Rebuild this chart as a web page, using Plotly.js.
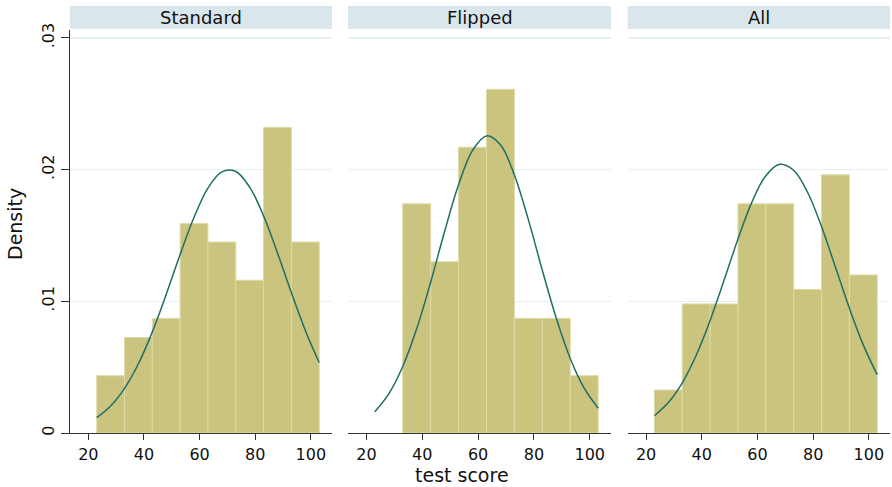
<!DOCTYPE html>
<html>
<head>
<meta charset="utf-8">
<script src="https://cdn.plot.ly/plotly-3.0.1.min.js"></script>
<style>html,body{margin:0;padding:0;background:#fff;}#chart{width:892px;height:487px;}</style>
</head>
<body>
<div id="chart"></div>
<script>
// ---- data ----
const panels = ["Standard", "Flipped", "All"];
const binCenters = [28, 38, 48, 58, 68, 78, 88, 98];
const standardDensity = [0.00435, 0.00725, 0.0087, 0.0159, 0.0145, 0.0116, 0.0232, 0.0145];
const flippedBinCenters = [38, 48, 58, 68, 78, 88, 98];
const flippedDensity = [0.0174, 0.0130, 0.0217, 0.0261, 0.0087, 0.0087, 0.00435];
const allDensity = [0.00326, 0.0098, 0.0098, 0.0174, 0.0174, 0.0109, 0.0196, 0.0120];
const curveX = [23, 28, 33, 38, 43, 48, 53, 58, 63, 68, 73, 78, 83, 88, 93, 98, 103];
const standardCurve = [0.00116, 0.00205, 0.00339, 0.00526, 0.00768, 0.01053, 0.01356, 0.01638, 0.0186, 0.01983, 0.01986, 0.01867, 0.01649, 0.01367, 0.01065, 0.00779, 0.00535];
const flippedCurve = [0.00162, 0.00297, 0.00505, 0.00791, 0.01145, 0.0153, 0.01885, 0.02146, 0.02256, 0.02188, 0.01959, 0.0162, 0.01236, 0.00871, 0.00566, 0.0034, 0.00188];
const allCurve = [0.00131, 0.00231, 0.00381, 0.0059, 0.00854, 0.01159, 0.01473, 0.01753, 0.01954, 0.0204, 0.01995, 0.01828, 0.01568, 0.0126, 0.00949, 0.00669, 0.00442];
const xTicks = [20, 40, 60, 80, 100];
const yTicks = [0, 0.01, 0.02, 0.03];
const yTickText = ["0", ".01", ".02", ".03"];
const xTitle = "test score";
const yTitle = "Density";

// ---- styling ----
const W = 892, H = 487;
const barColor = "#cbc47f", barEdge = "#dedaa6", curveColor = "#1f6e66";
const stripColor = "#d9e6ec", gridColor = "#e8f1f2", axisColor = "#333333";
const font = "DejaVu Sans";
const px = v => v / W, py = v => (H - v) / H;
const xDomains = [[70, 332], [348, 611], [627.7, 890]];
const yDom = [py(433), py(30)];

const barSets = [[binCenters, standardDensity], [flippedBinCenters, flippedDensity], [binCenters, allDensity]];
const curves = [standardCurve, flippedCurve, allCurve];

const data = [];
const layout = {
  width: W, height: H, margin: {l: 0, r: 0, t: 0, b: 0},
  paper_bgcolor: "#fff", plot_bgcolor: "#fff", showlegend: false,
  bargap: 0, shapes: [], annotations: [], font: {family: font, color: "#111"}
};

panels.forEach((name, i) => {
  const sfx = i === 0 ? "" : String(i + 1);
  data.push({
    type: "bar", x: barSets[i][0], y: barSets[i][1], width: 10,
    xaxis: "x" + sfx, yaxis: "y" + sfx,
    marker: {color: barColor, line: {color: barEdge, width: 1}}, hoverinfo: "skip"
  });
  data.push({
    type: "scatter", mode: "lines", x: curveX, y: curves[i],
    xaxis: "x" + sfx, yaxis: "y" + sfx,
    line: {color: curveColor, width: 1.5, shape: "spline", smoothing: 1}, hoverinfo: "skip"
  });
  layout["xaxis" + sfx] = {
    domain: [px(xDomains[i][0]), px(xDomains[i][1])], anchor: "y" + sfx,
    range: [13.4, 107.6], tickvals: xTicks, ticks: "outside", ticklen: 6, tickcolor: axisColor,
    showline: true, linecolor: axisColor, linewidth: 1.3, showgrid: false, zeroline: false,
    tickfont: {family: font, size: 16, color: "#111"}
  };
  layout["yaxis" + sfx] = {
    domain: yDom, anchor: "x" + sfx, range: [0, 0.0306],
    tickvals: yTicks, ticktext: yTickText, tickangle: -90,
    ticks: i === 0 ? "outside" : "", ticklen: 8, tickcolor: axisColor,
    showticklabels: i === 0, showline: i === 0, linecolor: axisColor, linewidth: 1.3,
    showgrid: true, gridcolor: gridColor, gridwidth: 1.3, zeroline: false,
    tickfont: {family: font, size: 16, color: "#111"}
  };
  layout.shapes.push({
    type: "rect", xref: "paper", yref: "paper", layer: "below",
    x0: px(xDomains[i][0]), x1: px(xDomains[i][1]), y0: py(29), y1: py(6),
    fillcolor: stripColor, line: {width: 0}
  });
  layout.annotations.push({
    xref: "paper", yref: "paper", x: (px(xDomains[i][0]) + px(xDomains[i][1])) / 2, y: py(17.5),
    text: name, showarrow: false, xanchor: "center", yanchor: "middle",
    font: {family: font, size: 18, color: "#111"}
  });
});

layout.annotations.push({
  xref: "paper", yref: "paper", x: px(461.5), y: py(475), text: xTitle, showarrow: false,
  xanchor: "center", yanchor: "middle", font: {family: font, size: 19, color: "#111"}
});
layout.annotations.push({
  xref: "paper", yref: "paper", x: px(15), y: py(224), text: yTitle, showarrow: false, textangle: -90,
  xanchor: "center", yanchor: "middle", font: {family: font, size: 19, color: "#111"}
});

Plotly.newPlot("chart", data, layout, {staticPlot: true, displayModeBar: false});
</script>
</body>
</html>
